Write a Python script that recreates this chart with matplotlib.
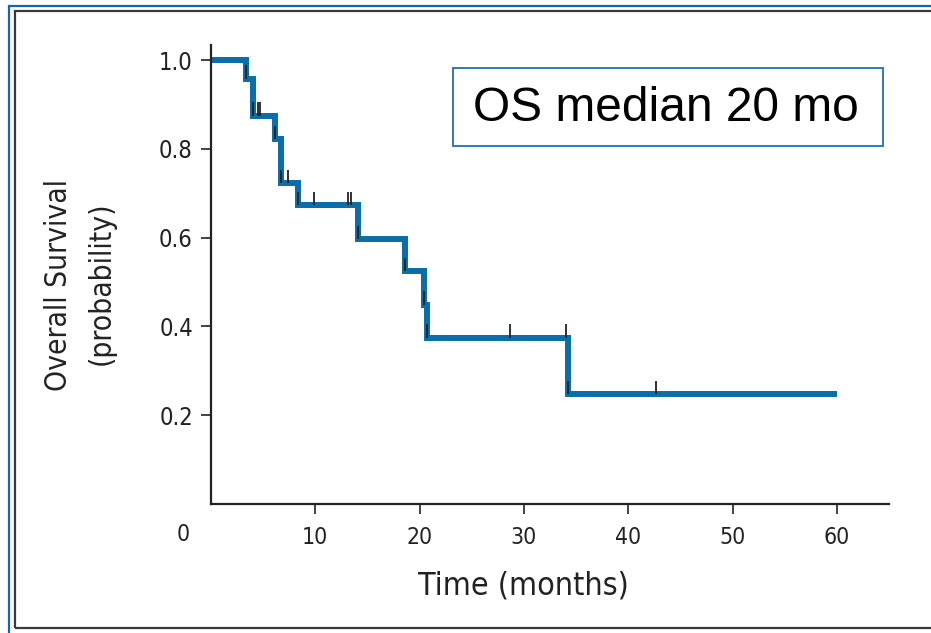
import numpy as np
import matplotlib
matplotlib.use("Agg")
import matplotlib.pyplot as plt
from matplotlib.patches import Rectangle
from matplotlib import font_manager as fm

# Kaplan-Meier estimate: event times (months) and survival after each step
surv_times = [0, 3.4, 4.0, 6.1, 6.7, 8.3, 14.1, 18.6, 20.4, 20.7, 34.2]
surv_probs = [1.0, 0.958, 0.875, 0.822, 0.723, 0.674, 0.596, 0.524, 0.449, 0.375, 0.248]
last_followup = 60

# censoring marks (months)
censor_times = [3.4, 4.0, 4.55, 4.74, 6.1, 6.7, 7.4, 8.3, 9.9, 13.1, 13.4,
                14.1, 18.6, 20.4, 20.7, 28.7, 34.0, 34.2, 42.7]

x_ticks = [10, 20, 30, 40, 50, 60]
y_ticks = [0.2, 0.4, 0.6, 0.8, 1.0]

blue = "#0b6ea8"
dark = "#222222"


def narrow_font(size):
    return fm.FontProperties(family="DejaVu Sans", stretch="condensed", size=size)


fig = plt.figure(figsize=(9.31, 6.33), dpi=100)
ax = fig.add_axes([0.2266, 0.2038, 0.7283, 0.725])

t = list(surv_times) + [last_followup]
s = list(surv_probs) + [surv_probs[-1]]
ax.step(t, s, where="post", color=blue, lw=4.3, solid_joinstyle="miter",
        solid_capstyle="butt", zorder=2)

idx = np.searchsorted(surv_times, censor_times, side="right") - 1
levels = np.array(surv_probs)[idx]
ax.vlines(censor_times, levels, levels + 0.03, color=dark, lw=1.3, zorder=3)

ax.set_xlim(0, 65)
ax.set_ylim(0, 1.034)
ax.set_xticks(x_ticks)
ax.set_yticks(y_ticks)
ax.set_xticklabels([str(v) for v in x_ticks], fontproperties=narrow_font(16.5))
ax.set_yticklabels([f"{v:.1f}" for v in y_ticks], fontproperties=narrow_font(17))
for sp in ["top", "right"]:
    ax.spines[sp].set_visible(False)
for sp in ["left", "bottom"]:
    ax.spines[sp].set_linewidth(1.6)
    ax.spines[sp].set_color(dark)
ax.tick_params(axis="both", direction="out", length=7, width=1.2, color=dark,
               labelcolor=dark)
ax.tick_params(axis="x", pad=9)
ax.tick_params(axis="y", pad=6)

# origin label sits left of the corner
ax.text(-2.7, -0.043, "0", ha="center", va="top", fontproperties=narrow_font(16.5),
        color=dark, clip_on=False)

fig.text(0.562, 0.075, "Time (months)", ha="center", va="center",
         fontproperties=narrow_font(23), color=dark)
fig.text(0.063, 0.55, "Overall Survival", ha="center", va="center",
         rotation=90, fontproperties=narrow_font(21.5), color=dark)
fig.text(0.109, 0.552, "(probability)", ha="center", va="center",
         rotation=90, fontproperties=narrow_font(21.5), color=dark)

# median box
fig.text(0.7148, 0.8293, "OS median 20 mo", ha="center", va="center",
         fontsize=34.5, family=["Liberation Sans", "DejaVu Sans"], color="black")
fig.patches.append(Rectangle((453 / 931, 1 - 146 / 633), 430 / 931, 78 / 633,
                             transform=fig.transFigure, fill=False,
                             edgecolor="#1f6fae", lw=1.3))

# double frame around the panel
fig.patches.append(Rectangle((9.3 / 931, -0.05), 1.2, 1 - 5.5 / 633 + 0.05,
                             transform=fig.transFigure, fill=False,
                             edgecolor="#1565a8", lw=1.6))
fig.patches.append(Rectangle((15 / 931, 1 - 628 / 633), 1.2, (628 - 10.5) / 633,
                             transform=fig.transFigure, fill=False,
                             edgecolor="#3a3a3a", lw=1.6))

fig.savefig("out.png", dpi=100)
